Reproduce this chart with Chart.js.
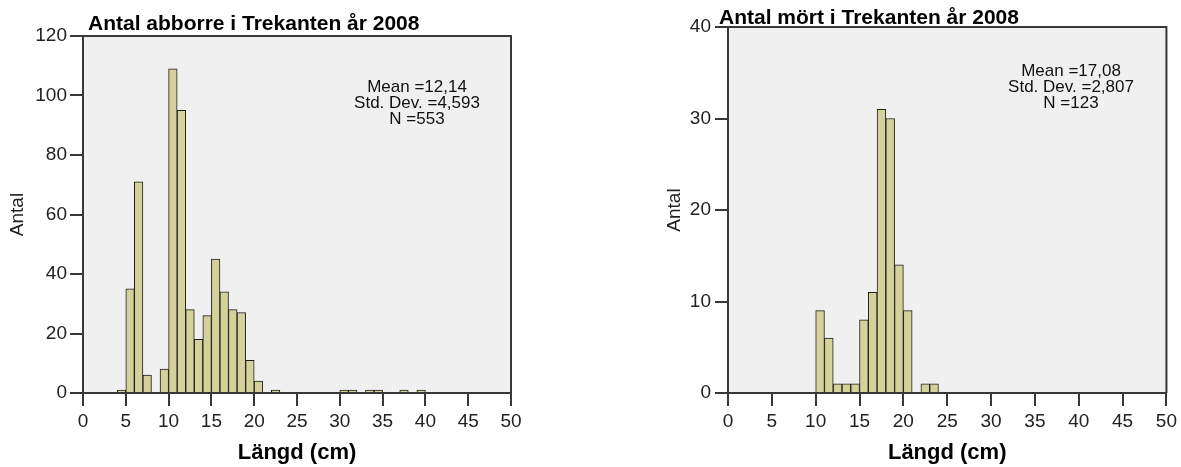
<!DOCTYPE html>
<html>
<head>
<meta charset="utf-8">
<script src="https://cdn.jsdelivr.net/npm/chart.js@4"></script>
<style>
  html, body { margin: 0; padding: 0; background: #fff; }
  #wrap { position: relative; width: 1181px; height: 467px; overflow: hidden; }
  .box { position: absolute; top: 0; height: 467px; }
  #boxLeft { left: 0; width: 590px; }
  #boxRight { left: 590px; width: 591px; }
</style>
</head>
<body>
<div id="wrap">
  <div class="box" id="boxLeft"><canvas id="chartAbborre"></canvas></div>
  <div class="box" id="boxRight"><canvas id="chartMort"></canvas></div>
</div>
<script>
// Histogram data, 1 cm bins (lower edge of each non-empty bin)
const abborreBins   = [4, 5, 6, 7, 9, 10, 11, 12, 13, 14, 15, 16, 17, 18, 19, 20, 22, 30, 31, 33, 34, 37, 39];
const abborreCounts = [1, 35, 71, 6, 8, 109, 95, 28, 18, 26, 45, 34, 28, 27, 11, 4, 1, 1, 1, 1, 1, 1, 1];
const abborreStats  = ['Mean =12,14', 'Std. Dev. =4,593', 'N =553'];

const mortBins   = [10, 11, 12, 13, 14, 15, 16, 17, 18, 19, 20, 22, 23];
const mortCounts = [9, 6, 1, 1, 1, 8, 11, 31, 30, 14, 9, 1, 1];
const mortStats  = ['Mean =17,08', 'Std. Dev. =2,807', 'N =123'];

const xTicks = [0, 5, 10, 15, 20, 25, 30, 35, 40, 45, 50];
const abborreYMax = 120, abborreYStep = 20;
const mortYMax = 40, mortYStep = 10;

const FONT = "'Liberation Sans', Arial, sans-serif";
const AXIS = '#383838';

const framePlugin = {
    id: 'frame',
    beforeDraw: function (chart, args, o) {
        const a = chart.chartArea, ctx = chart.ctx;
        ctx.save();
        ctx.fillStyle = '#f0f0f0';
        ctx.fillRect(a.left, a.top, a.width, a.height);
        ctx.restore();
    },
    afterDraw: function (chart, args, o) {
        const a = chart.chartArea, ctx = chart.ctx;
        ctx.save();
        // top and right frame
        ctx.strokeStyle = AXIS;
        ctx.lineWidth = 2;
        ctx.beginPath();
        ctx.moveTo(a.left, a.top);
        ctx.lineTo(a.right, a.top);
        ctx.lineTo(a.right, a.bottom);
        ctx.stroke();
        // title
        ctx.fillStyle = '#000';
        ctx.font = 'bold 21px ' + FONT;
        ctx.textAlign = 'left';
        ctx.textBaseline = 'alphabetic';
        ctx.fillText(o.title, o.titleX, o.titleY);
        // statistics box
        ctx.fillStyle = '#111';
        ctx.font = '17px ' + FONT;
        ctx.textAlign = 'center';
        ctx.textBaseline = 'middle';
        o.stats.forEach(function (s, i) { ctx.fillText(s, o.statsX, o.statsY + i * 16); });
        ctx.restore();
    }
};

function makeHist(canvasId, bins, counts, cfg) {
    const data = bins.map(function (b, i) { return { x: b + 0.5, y: counts[i] }; });
    return new Chart(document.getElementById(canvasId), {
        type: 'bar',
        data: {
            datasets: [{
                data: data,
                backgroundColor: '#d5d19a',
                borderColor: '#1e1e1e',
                borderWidth: 1,
                barPercentage: 1,
                categoryPercentage: 1,
            }],
        },
        plugins: [framePlugin],
        options: {
            responsive: true,
            maintainAspectRatio: false,
            animation: false,
            layout: { padding: cfg.padding },
            plugins: {
                legend: { display: false },
                tooltip: { enabled: false },
                frame: cfg.frame,
            },
            scales: {
                x: {
                    type: 'linear',
                    min: 0, max: 50,
                    offset: false,
                    afterFit: function (s) { s.height = cfg.xHeight; },
                    afterBuildTicks: function (s) { s.ticks = xTicks.map(function (v) { return { value: v }; }); },
                    grid: { offset: false, drawOnChartArea: false, drawTicks: true, tickLength: 13, color: AXIS, lineWidth: 2 },
                    border: { display: true, color: AXIS, width: 2, z: 1 },
                    ticks: { color: '#222', padding: 4, font: { family: FONT, size: 19 }, maxRotation: 0 },
                    title: { display: true, text: 'Längd (cm)', color: '#000', padding: { top: 0, bottom: 3 }, font: { family: FONT, size: 22, weight: 'bold', lineHeight: 1 } },
                },
                y: {
                    type: 'linear',
                    min: 0, max: cfg.yMax,
                    afterFit: function (s) { s.width = cfg.yWidth; },
                    grid: { drawOnChartArea: false, drawTicks: true, tickLength: 13, color: AXIS, lineWidth: 2 },
                    border: { display: true, color: AXIS, width: 2, z: 1 },
                    ticks: { stepSize: cfg.yStep, color: '#222', padding: cfg.yTickPad, font: { family: FONT, size: 19 } },
                    title: { display: true, text: 'Antal', color: '#222', padding: { top: cfg.yTitlePad, bottom: 0 }, font: { family: FONT, size: 19, lineHeight: 1 } },
                },
            },
        },
    });
}

makeHist('chartAbborre', abborreBins, abborreCounts, {
    padding: { left: 0, right: 79, top: 36, bottom: 0 },
    xHeight: 74, yWidth: 83, yMax: abborreYMax, yStep: abborreYStep, yTickPad: 3, yTitlePad: 8,
    frame: { title: 'Antal abborre i Trekanten år 2008', titleX: 88, titleY: 30, stats: abborreStats, statsX: 417, statsY: 87 },
});

makeHist('chartMort', mortBins, mortCounts, {
    padding: { left: 0, right: 14, top: 27, bottom: 0 },
    xHeight: 74, yWidth: 138, yMax: mortYMax, yStep: mortYStep, yTickPad: 4, yTitlePad: 75,
    frame: { title: 'Antal mört i Trekanten år 2008', titleX: 129, titleY: 24, stats: mortStats, statsX: 481, statsY: 71 },
});
</script>
</body>
</html>
